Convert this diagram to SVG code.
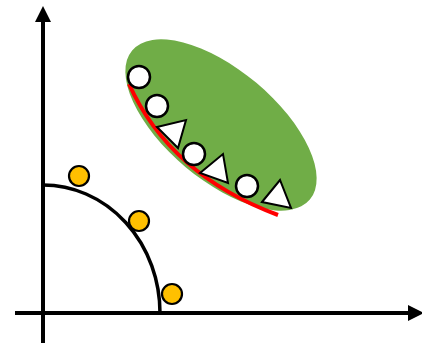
<svg xmlns="http://www.w3.org/2000/svg" width="422" height="346" viewBox="0 0 422 346">
<style>
.ax{stroke:#000;stroke-width:4;fill:none}
.yc{fill:#FFC000;stroke:#000;stroke-width:2.2}
.wc{fill:#fff;stroke:#000;stroke-width:2.5}
.tr{fill:#fff;stroke:#000;stroke-width:2;stroke-linejoin:miter}
</style>
<defs>
<marker id="ah" markerWidth="4" markerHeight="4" refX="1.5" refY="2" orient="auto" markerUnits="strokeWidth">
<path d="M0,0 L4,2 L0,4 Z" fill="#000"/>
</marker>
</defs>
<rect width="422" height="346" fill="#fff"/>
<g id="connectors">
<line class="ax" x1="43" y1="343" x2="43" y2="16" marker-end="url(#ah)"/>
<line class="ax" x1="15" y1="313" x2="414" y2="313" marker-end="url(#ah)"/>
<path d="M 43 185 A 117 128 0 0 1 160 313" stroke="#000" stroke-width="3.5" fill="none"/>
</g>
<g id="cluster">
<ellipse cx="221" cy="125" rx="116" ry="55" transform="rotate(40 221 125)" fill="#70AD47"/>
<path d="M 129 84 Q 170 175 278 215" stroke="#FF0000" stroke-width="4" fill="none"/>
</g>
<g id="yellow1"><circle class="yc" cx="79" cy="176" r="10"/></g>
<g id="yellow2"><circle class="yc" cx="139" cy="221" r="10"/></g>
<g id="yellow3"><circle class="yc" cx="172" cy="294" r="10"/></g>
<g id="white1"><circle class="wc" cx="139" cy="77" r="11"/></g>
<g id="white2"><circle class="wc" cx="157" cy="106" r="11"/></g>
<g id="white3"><circle class="wc" cx="194" cy="154" r="11"/></g>
<g id="white4"><circle class="wc" cx="247" cy="186" r="11"/></g>
<g id="tri1"><polygon class="tr" points="157,127 186,120 178,148"/></g>
<g id="tri2"><polygon class="tr" points="200,173 223,154 228,183"/></g>
<g id="tri3"><polygon class="tr" points="262,202 280,180 291,208"/></g>
</svg>
